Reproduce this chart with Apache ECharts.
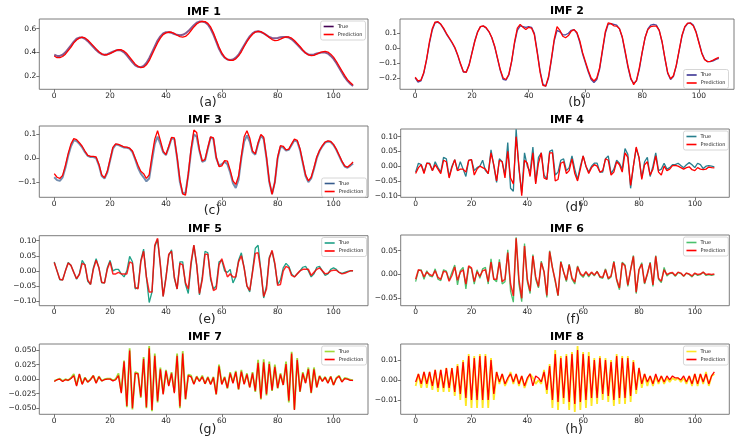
<!DOCTYPE html>
<html><head><meta charset="utf-8">
<script src="https://cdn.jsdelivr.net/npm/echarts@6/dist/echarts.min.js"></script>
<style>html,body{margin:0;padding:0;background:#fff}#c{width:741px;height:439px}</style>
</head><body><div id="c"></div>
<script>
// ---------------- DATA ----------------
const xTicks = [0, 20, 40, 60, 80, 100];
const panelTitles = ['IMF 1','IMF 2','IMF 3','IMF 4','IMF 5','IMF 6','IMF 7','IMF 8'];
const panelLabels = ['(a)','(b)','(c)','(d)','(e)','(f)','(g)','(h)'];
const seriesNames = ['True', 'Prediction'];

const yTicks1 = [0.2, 0.4, 0.6];
const yTicks2 = [-0.2, -0.1, 0.0, 0.1];
const yTicks3 = [-0.1, 0.0, 0.1];
const yTicks4 = [-0.10, -0.05, 0.00, 0.05, 0.10];
const yTicks5 = [-0.10, -0.05, 0.00, 0.05, 0.10];
const yTicks6 = [-0.05, 0.00, 0.05];
const yTicks7 = [-0.050, -0.025, 0.000, 0.025, 0.050];
const yTicks8 = [-0.01, 0.00, 0.01];

const imf1True = [0.38,0.37,0.37,0.38,0.40,0.43,0.46,0.49,0.515,0.525,
0.525,0.515,0.495,0.47,0.445,0.42,0.40,0.385,0.38,0.385,
0.395,0.405,0.415,0.42,0.415,0.40,0.375,0.345,0.315,0.29,
0.278,0.275,0.285,0.31,0.35,0.40,0.45,0.50,0.535,0.56,
0.57,0.57,0.565,0.555,0.548,0.545,0.548,0.56,0.58,0.605,
0.63,0.65,0.66,0.66,0.655,0.635,0.60,0.55,0.49,0.43,
0.385,0.355,0.34,0.335,0.34,0.355,0.38,0.42,0.46,0.50,
0.535,0.56,0.575,0.578,0.572,0.56,0.545,0.53,0.522,0.52,
0.522,0.527,0.53,0.53,0.525,0.51,0.49,0.465,0.44,0.415,
0.395,0.383,0.38,0.383,0.39,0.395,0.40,0.398,0.39,0.37,
0.345,0.31,0.27,0.23,0.19,0.16,0.135,0.115];
const imf1Pred = [0.37,0.355,0.355,0.365,0.385,0.415,0.445,0.48,0.505,0.52,
0.528,0.522,0.505,0.48,0.455,0.43,0.405,0.388,0.378,0.38,
0.39,0.402,0.415,0.423,0.422,0.41,0.39,0.36,0.33,0.30,
0.282,0.272,0.275,0.295,0.33,0.38,0.43,0.48,0.52,0.55,
0.565,0.572,0.57,0.56,0.545,0.533,0.528,0.535,0.555,0.585,
0.615,0.64,0.655,0.662,0.66,0.645,0.615,0.565,0.505,0.445,
0.395,0.36,0.34,0.332,0.333,0.345,0.37,0.405,0.45,0.49,
0.525,0.553,0.572,0.578,0.575,0.562,0.545,0.525,0.508,0.50,
0.502,0.512,0.523,0.53,0.53,0.52,0.50,0.475,0.45,0.42,
0.395,0.378,0.372,0.375,0.385,0.397,0.405,0.408,0.403,0.385,
0.36,0.325,0.285,0.245,0.205,0.17,0.145,0.125];

const imf2True = [-0.20,-0.228,-0.22,-0.17,-0.08,0.03,0.12,0.17,0.175,0.16,
0.13,0.095,0.065,0.035,0.0,-0.05,-0.11,-0.16,-0.16,-0.11,
-0.03,0.05,0.11,0.145,0.148,0.135,0.11,0.07,0.01,-0.07,
-0.15,-0.21,-0.215,-0.18,-0.09,0.03,0.12,0.15,0.145,0.14,
0.145,0.14,0.10,-0.02,-0.15,-0.24,-0.255,-0.20,-0.08,0.05,
0.12,0.11,0.09,0.09,0.10,0.12,0.125,0.10,0.04,-0.04,
-0.10,-0.16,-0.21,-0.23,-0.21,-0.14,-0.02,0.10,0.16,0.165,
0.16,0.155,0.13,0.07,-0.03,-0.13,-0.21,-0.235,-0.22,-0.14,
-0.03,0.07,0.13,0.155,0.16,0.155,0.12,0.04,-0.07,-0.17,
-0.21,-0.19,-0.12,-0.02,0.08,0.14,0.165,0.17,0.155,0.11,
0.04,-0.03,-0.075,-0.09,-0.09,-0.085,-0.075,-0.068];
const imf2Pred = [-0.195,-0.22,-0.215,-0.165,-0.075,0.04,0.13,0.175,0.178,0.162,
0.135,0.1,0.07,0.04,0.005,-0.045,-0.105,-0.158,-0.162,-0.115,
-0.035,0.045,0.108,0.145,0.15,0.138,0.112,0.072,0.015,-0.065,
-0.145,-0.2,-0.21,-0.175,-0.085,0.04,0.135,0.16,0.14,0.125,
0.14,0.135,0.09,-0.03,-0.16,-0.25,-0.255,-0.19,-0.07,0.06,
0.145,0.12,0.08,0.07,0.085,0.115,0.125,0.105,0.05,-0.03,
-0.09,-0.15,-0.2,-0.22,-0.2,-0.13,-0.01,0.11,0.17,0.165,
0.15,0.148,0.13,0.075,-0.02,-0.12,-0.2,-0.245,-0.215,-0.13,
-0.025,0.07,0.125,0.145,0.148,0.148,0.12,0.045,-0.065,-0.165,
-0.205,-0.185,-0.115,-0.015,0.085,0.145,0.168,0.168,0.15,0.105,
0.035,-0.035,-0.078,-0.09,-0.088,-0.08,-0.07,-0.062];

const imf3True = [-0.08,-0.092,-0.095,-0.08,-0.04,0.01,0.05,0.075,0.072,0.06,
0.045,0.025,0.01,0.005,0.005,0.0,-0.03,-0.075,-0.085,-0.06,
-0.01,0.04,0.057,0.055,0.05,0.045,0.044,0.04,0.025,-0.005,
-0.04,-0.065,-0.08,-0.097,-0.085,-0.01,0.06,0.09,0.06,0.025,
0.013,0.045,0.083,0.08,0.0,-0.1,-0.148,-0.145,-0.07,0.03,
0.1,0.09,0.03,-0.015,-0.01,0.04,0.088,0.08,0.0,-0.03,
-0.025,-0.015,-0.025,-0.06,-0.105,-0.125,-0.09,0.0,0.07,0.095,
0.07,0.025,0.015,0.06,0.095,0.08,0.0,-0.1,-0.15,-0.1,
0.0,0.048,0.045,0.032,0.035,0.055,0.075,0.07,0.035,-0.02,
-0.075,-0.1,-0.085,-0.045,0.0,0.03,0.05,0.065,0.07,0.068,
0.055,0.035,0.01,-0.015,-0.035,-0.04,-0.032,-0.022];
const imf3Pred = [-0.065,-0.08,-0.085,-0.072,-0.03,0.02,0.06,0.082,0.078,0.065,
0.05,0.03,0.012,0.008,0.008,0.005,-0.025,-0.07,-0.082,-0.055,
-0.005,0.045,0.06,0.058,0.053,0.047,0.046,0.042,0.03,0.0,
-0.03,-0.055,-0.065,-0.085,-0.07,0.01,0.08,0.115,0.075,0.03,
0.015,0.05,0.087,0.085,0.005,-0.09,-0.15,-0.155,-0.065,0.04,
0.118,0.108,0.035,-0.012,-0.005,0.045,0.09,0.085,0.005,-0.035,
-0.032,-0.01,-0.012,-0.05,-0.095,-0.11,-0.075,0.01,0.09,0.115,
0.085,0.03,0.018,0.065,0.1,0.088,0.005,-0.095,-0.152,-0.1,
0.005,0.053,0.05,0.035,0.038,0.06,0.08,0.075,0.04,-0.015,
-0.07,-0.095,-0.08,-0.04,0.005,0.033,0.053,0.068,0.073,0.07,
0.058,0.038,0.013,-0.012,-0.032,-0.038,-0.028,-0.016];

const imf4True = [-0.02,0.01,0.005,-0.02,0.01,0.01,-0.015,0.015,-0.005,-0.02,
0.03,0.025,-0.035,0.0,0.022,-0.015,0.015,-0.01,-0.035,0.02,
0.022,-0.015,-0.005,0.0,0.02,-0.015,-0.025,0.055,0.0,-0.055,
0.025,0.015,-0.03,0.08,-0.075,-0.085,0.125,-0.01,-0.09,0.045,
0.0,-0.02,0.065,-0.055,0.03,0.045,-0.03,-0.045,0.05,0.055,
-0.03,-0.02,0.02,0.025,-0.015,-0.005,0.035,-0.01,-0.045,0.0,
0.035,0.0,-0.02,0.0,0.01,0.01,-0.02,-0.02,0.025,0.035,
-0.025,-0.01,0.02,0.01,-0.01,0.06,0.04,-0.075,0.0,0.06,
0.03,-0.04,0.015,0.03,-0.035,0.0,0.045,-0.015,-0.01,0.01,
-0.01,-0.005,0.005,0.005,0.01,0.002,-0.005,0.005,0.012,0.005,
-0.005,0.01,0.005,-0.008,0.0,0.002,0.0,-0.002];
const imf4Pred = [-0.025,-0.005,0.005,-0.025,0.01,0.008,-0.015,0.005,-0.01,-0.025,
0.02,0.015,-0.04,-0.005,0.022,-0.015,-0.01,-0.01,-0.02,0.02,
0.022,-0.03,-0.01,0.0,-0.005,-0.01,-0.025,0.045,0.005,-0.05,
0.02,0.015,-0.04,0.05,-0.04,-0.06,0.10,0.0,-0.10,0.02,
0.01,-0.035,0.045,-0.06,0.01,0.045,-0.04,-0.045,0.045,0.045,
-0.05,-0.045,0.01,0.015,-0.025,-0.015,0.025,-0.025,-0.05,-0.01,
0.035,0.0,-0.025,-0.005,0.005,0.0,-0.02,-0.015,0.025,0.02,
-0.03,-0.02,0.015,0.005,-0.02,0.045,0.03,-0.065,0.0,0.065,
0.03,-0.045,0.005,0.015,-0.03,-0.01,0.035,-0.02,-0.03,0.0,
-0.015,-0.01,0.002,0.003,0.0,-0.005,-0.01,-0.005,-0.002,-0.012,
-0.015,-0.005,-0.01,-0.012,-0.01,-0.003,-0.005,-0.006];

const imf5True = [0.03,0.0,-0.03,-0.03,0.0,0.028,0.018,-0.005,-0.028,-0.01,
0.035,0.02,-0.035,-0.045,0.01,0.04,0.01,-0.04,-0.04,0.01,
0.035,0.0,0.005,0.005,-0.01,-0.02,0.0,0.048,0.03,-0.06,
-0.055,0.035,0.072,-0.02,-0.105,-0.07,0.08,0.105,0.02,-0.085,
-0.02,0.05,0.07,-0.025,-0.06,0.03,0.03,-0.045,-0.075,0.02,
0.085,0.02,-0.08,-0.02,0.065,0.06,-0.03,-0.06,-0.05,0.03,
0.035,0.0,-0.005,0.005,-0.04,-0.02,0.035,0.06,0.01,-0.05,
-0.07,0.0,0.075,0.085,0.0,-0.09,-0.05,0.045,0.065,0.02,
-0.045,-0.03,0.01,0.025,0.015,-0.01,-0.02,-0.01,0.0,0.012,
0.015,0.0,-0.02,-0.01,0.012,0.015,0.0,-0.015,-0.01,0.005,
0.01,0.005,-0.005,-0.008,-0.005,-0.002,0.0,0.0];
const imf5Pred = [0.028,0.0,-0.028,-0.03,0.0,0.026,0.018,-0.005,-0.026,-0.012,
0.025,0.02,-0.03,-0.045,0.005,0.035,0.01,-0.038,-0.04,0.005,
0.03,-0.01,-0.01,-0.005,-0.01,-0.01,-0.01,0.03,0.025,-0.055,
-0.06,0.03,0.065,-0.02,-0.07,-0.07,0.085,0.108,0.02,-0.085,
-0.025,0.055,0.065,-0.02,-0.06,0.025,0.02,-0.04,-0.06,0.03,
0.085,0.02,-0.075,-0.03,0.055,0.055,-0.02,-0.065,-0.06,0.02,
0.04,0.01,-0.02,-0.01,-0.02,-0.02,0.03,0.05,0.01,-0.05,
-0.065,-0.005,0.058,0.06,0.0,-0.085,-0.06,0.04,0.068,0.025,
-0.048,-0.045,0.0,0.015,0.01,-0.015,-0.02,-0.01,0.0,0.005,
0.005,0.005,-0.015,-0.005,0.005,0.01,0.0,-0.01,-0.008,0.0,
0.002,0.002,-0.005,-0.01,-0.008,-0.004,0.0,0.0];

const imf6True = [-0.015,0.008,0.01,-0.01,0.008,-0.003,-0.005,0.012,-0.01,-0.013,
0.01,0.007,-0.012,0.005,0.02,-0.022,0.008,0.015,-0.03,0.016,
0.012,-0.02,0.01,-0.008,0.012,0.015,-0.02,0.033,-0.01,-0.015,
0.032,-0.02,-0.015,0.052,-0.035,-0.058,0.078,-0.02,-0.057,0.065,
-0.015,-0.04,0.042,-0.01,-0.028,0.028,0.005,-0.048,0.05,0.015,
-0.015,-0.045,0.028,0.005,-0.015,0.022,-0.01,-0.02,0.018,0.0,
-0.006,0.005,-0.005,0.004,-0.003,0.007,-0.006,-0.008,0.012,-0.01,
-0.005,0.028,-0.012,-0.032,0.026,0.02,-0.025,0.01,0.04,-0.04,
0.01,0.025,-0.02,0.0,0.026,-0.025,0.04,-0.01,-0.017,0.015,
-0.003,0.002,0.003,-0.004,0.004,0.002,-0.004,0.003,0.0,-0.005,
0.002,-0.002,0.0,0.005,-0.002,0.0,-0.002,0.0];
const imf6Pred = [-0.01,0.01,0.008,-0.005,0.005,0.0,-0.003,0.008,-0.006,-0.01,
0.007,0.005,-0.014,-0.002,0.016,-0.012,0.005,0.01,-0.02,0.018,
0.014,-0.015,0.006,-0.004,0.008,0.01,-0.015,0.026,-0.01,-0.01,
0.026,-0.015,-0.01,0.046,-0.02,-0.045,0.076,-0.01,-0.05,0.06,
-0.01,-0.035,0.039,-0.005,-0.025,0.025,0.006,-0.044,0.048,0.014,
-0.012,-0.044,0.026,0.006,-0.012,0.02,-0.007,-0.016,0.016,0.002,
-0.003,0.006,-0.002,0.005,-0.001,0.006,-0.004,-0.006,0.01,-0.008,
-0.003,0.026,-0.01,-0.028,0.024,0.018,-0.022,0.01,0.038,-0.037,
0.01,0.022,-0.018,0.002,0.024,-0.022,0.038,-0.008,-0.014,0.01,
0.0,0.003,0.004,-0.002,0.005,0.003,-0.003,0.003,0.001,-0.003,
0.003,0.0,0.001,0.005,0.0,0.001,0.0,0.001];

const imf7True = [-0.003,-0.001,0.001,-0.003,0.0,-0.002,0.002,0.009,-0.01,0.008,
-0.008,0.003,-0.005,0.0,0.006,-0.006,0.005,-0.003,0.0,0.001,
0.001,-0.002,0.0,0.01,-0.022,0.032,-0.048,0.053,-0.052,0.012,
0.01,-0.032,0.038,-0.05,0.057,-0.055,0.044,-0.04,0.02,-0.025,
0.016,-0.01,0.012,-0.022,0.044,-0.05,0.048,-0.035,0.008,0.006,
-0.008,0.005,-0.003,0.006,-0.008,0.004,-0.008,0.004,-0.026,0.025,
-0.008,0.004,-0.016,0.012,-0.006,0.014,-0.018,0.016,-0.008,0.01,
-0.014,0.012,-0.022,0.033,-0.035,0.034,-0.028,0.03,-0.02,0.025,
-0.016,0.01,-0.01,0.03,-0.04,0.047,-0.052,0.036,-0.022,0.012,
-0.006,0.02,-0.024,0.02,-0.014,0.006,-0.003,0.004,-0.006,0.005,
-0.01,0.002,0.006,-0.004,0.002,0.001,-0.001,-0.002];
const imf7Pred = [-0.004,-0.001,0.0,-0.004,-0.001,-0.002,0.001,0.006,-0.012,0.009,
-0.009,0.002,-0.005,-0.001,0.006,-0.007,0.004,-0.003,-0.001,0.0,
0.0,-0.003,-0.001,0.006,-0.024,0.03,-0.046,0.049,-0.05,0.01,
0.009,-0.03,0.035,-0.048,0.053,-0.053,0.04,-0.038,0.017,-0.026,
0.014,-0.012,0.01,-0.024,0.04,-0.047,0.044,-0.034,0.006,0.004,
-0.009,0.004,-0.004,0.004,-0.008,0.003,-0.009,0.003,-0.026,0.022,
-0.009,0.003,-0.015,0.01,-0.007,0.012,-0.017,0.013,-0.009,0.008,
-0.014,0.01,-0.02,0.028,-0.033,0.029,-0.026,0.026,-0.019,0.021,
-0.015,0.008,-0.01,0.026,-0.037,0.044,-0.053,0.033,-0.021,0.01,
-0.007,0.017,-0.023,0.017,-0.014,0.005,-0.004,0.003,-0.007,0.004,
-0.01,0.001,0.005,-0.005,0.001,0.0,-0.002,-0.002];

const imf8True = [-0.003,0.003,-0.004,0.004,-0.004,0.004,-0.005,0.005,-0.006,0.005,
-0.006,0.006,-0.006,0.006,-0.008,0.008,-0.01,0.01,-0.013,0.013,
-0.014,0.012,-0.014,0.013,-0.014,0.013,-0.014,0.011,-0.01,0.004,
-0.002,0.003,-0.003,0.0,0.004,-0.002,0.003,-0.003,0.002,-0.004,
0.0,0.003,0.001,-0.002,0.0,-0.002,0.005,-0.007,0.008,-0.014,
0.015,-0.015,0.012,-0.012,0.013,-0.015,0.014,-0.016,0.017,-0.015,
0.014,-0.014,0.014,-0.013,0.011,-0.012,0.012,-0.01,0.011,-0.011,
0.01,-0.013,0.013,-0.012,0.012,-0.012,0.012,-0.011,0.01,-0.007,
0.006,-0.004,0.003,-0.003,0.002,-0.003,0.002,-0.002,0.002,-0.002,
0.001,-0.001,0.001,0.0,0.001,-0.001,0.001,-0.002,0.002,-0.003,
0.003,-0.003,0.003,-0.002,0.004,-0.003,0.002,0.003];
const imf8Pred = [-0.001,0.003,-0.002,0.004,-0.002,0.004,-0.003,0.005,-0.004,0.005,
-0.004,0.006,-0.004,0.006,-0.006,0.007,-0.007,0.009,-0.009,0.012,
-0.01,0.011,-0.01,0.012,-0.01,0.012,-0.01,0.01,-0.007,0.004,
-0.001,0.003,-0.002,0.001,0.003,-0.001,0.003,-0.002,0.002,-0.003,
0.001,0.003,-0.003,0.002,0.001,-0.001,0.004,-0.005,0.007,-0.01,
0.013,-0.011,0.011,-0.009,0.012,-0.011,0.013,-0.012,0.015,-0.011,
0.013,-0.01,0.012,-0.009,0.01,-0.009,0.011,-0.007,0.01,-0.008,
0.009,-0.01,0.012,-0.009,0.011,-0.009,0.011,-0.008,0.009,-0.005,
0.006,-0.002,0.003,-0.001,0.002,-0.002,0.003,-0.001,0.002,-0.001,
0.002,0.0,0.002,0.001,0.001,0.0,0.002,-0.001,0.002,-0.002,
0.003,-0.002,0.003,-0.001,0.003,-0.002,0.002,0.004];

// ---------------- LAYOUT / STYLE ----------------
const FONT = 'DejaVu Sans';
const trueSets = [imf1True, imf2True, imf3True, imf4True, imf5True, imf6True, imf7True, imf8True];
const predSets = [imf1Pred, imf2Pred, imf3Pred, imf4Pred, imf5Pred, imf6Pred, imf7Pred, imf8Pred];
const tickSets = [yTicks1, yTicks2, yTicks3, yTicks4, yTicks5, yTicks6, yTicks7, yTicks8];
trueSets.concat(predSets).forEach((a, k) => { if (a.length !== 108) throw new Error('array ' + k + ' has length ' + a.length); });

const layout = [
  {grid:[39.3,19,328.7,70.3],  y:[0.088,0.682],    dec:1, tc:'#440154', tw:2.0, to:0.65, pw:1.3, po:1,   leg:{right:375.5,top:21},   tt:[204,12],  st:[208,103]},
  {grid:[400,19,334,70.3],     y:[-0.276,0.196],   dec:1, tc:'#3b3494', tw:1.3, to:0.9,  pw:1.3, po:1,   leg:{right:12.5,top:69.5}, tt:[567,11.5], st:[577,103]},
  {grid:[39.3,126,328.7,71.3], y:[-0.164,0.135],   dec:1, tc:'#365c8d', tw:2.0, to:0.7,  pw:1.3, po:1,   leg:{right:374.5,top:178},  tt:[205,120], st:[212,211]},
  {grid:[400.7,129,328.6,68.3],y:[-0.1055,0.126],  dec:2, tc:'#277f8e', tw:1.3, to:1,    pw:1.3, po:1,   leg:{right:12.7,top:131},  tt:[567,120.5], st:[574,208]},
  {grid:[39.3,235.7,328.7,70], y:[-0.1155,0.1166], dec:2, tc:'#1fa187', tw:1.3, to:1,    pw:1.5, po:0.85,leg:{right:374.5,top:237.5},tt:[205,228.7],st:[207,320]},
  {grid:[400.7,235,328.6,70.7],y:[-0.0655,0.083],  dec:2, tc:'#4ac16d', tw:1.3, to:1,    pw:1.5, po:0.85,leg:{right:12.7,top:237},  tt:[567,228.7],st:[573,320]},
  {grid:[39.3,344,328.7,70.3], y:[-0.0603,0.0603], dec:3, tc:'#a0da39', tw:1.8, to:1,    pw:1.3, po:1,   leg:{right:374.5,top:346},  tt:[205,336.7],st:[207.5,430]},
  {grid:[400.7,344,328.6,70.3],y:[-0.0172,0.018],  dec:2, tc:'#fde725', tw:1.8, to:1,    pw:1.3, po:1,   leg:{right:12.7,top:346},  tt:[567,336.7],st:[574,430]}
];

const fmt = (v, d) => { const s = Math.abs(v) < 1e-12 ? (0).toFixed(d) : v.toFixed(d); return s.replace('-', '\u2212'); };

const grids = [], xAxes = [], yAxes = [], series = [], legends = [], graphics = [];
layout.forEach((L, i) => {
  grids.push({left:L.grid[0], top:L.grid[1], width:L.grid[2], height:L.grid[3], show:true,
    borderColor:'#6e6e6e', borderWidth:0.9, backgroundColor:'#fff', containLabel:false});
  xAxes.push({gridIndex:i, type:'value', min:-5.35, max:112.35, position:'bottom',
    splitLine:{show:false}, axisLine:{show:false, onZero:false},
    axisTick:{show:true, inside:false, customValues:xTicks, length:3, lineStyle:{color:'#555', width:0.8}},
    axisLabel:{customValues:xTicks, fontSize:7.5, color:'#222', margin:2.5, fontFamily:FONT}});
  yAxes.push({gridIndex:i, type:'value', min:L.y[0], max:L.y[1], position:'left',
    splitLine:{show:false}, axisLine:{show:false, onZero:false},
    axisTick:{show:true, inside:false, customValues:tickSets[i], length:3, lineStyle:{color:'#555', width:0.8}},
    axisLabel:{customValues:tickSets[i], fontSize:7.5, color:'#222', margin:3, fontFamily:FONT,
      formatter:(v) => fmt(v, L.dec)}});
  const tName = seriesNames[0] + '#' + i, pName = seriesNames[1] + '#' + i;
  series.push({type:'line', name:tName, xAxisIndex:i, yAxisIndex:i, symbol:'none', showSymbol:false,
    color:L.tc, lineStyle:{width:L.tw, opacity:L.to}, data:trueSets[i].map((v,k)=>[k,v]), z:2, silent:true});
  series.push({type:'line', name:pName, xAxisIndex:i, yAxisIndex:i, symbol:'none', showSymbol:false,
    color:'#ff0000', lineStyle:{width:L.pw, opacity:L.po}, data:predSets[i].map((v,k)=>[k,v]), z:3, silent:true});
  legends.push(Object.assign({data:[tName, pName], orient:'vertical', icon:'rect', itemWidth:10, itemHeight:1.6,
    itemGap:2, padding:[2.5,3,2.5,3], backgroundColor:'rgba(255,255,255,0.85)', borderColor:'#cccccc',
    borderWidth:0.8, borderRadius:2, selectedMode:false,
    formatter:(n) => n.split('#')[0],
    textStyle:{fontSize:5, fontFamily:FONT, color:'#222', lineHeight:6, padding:[0,0,0,-1]}}, L.leg));
  graphics.push({type:'text', x:L.tt[0], y:L.tt[1], style:{text:panelTitles[i], fontSize:11, fontWeight:'bold',
    fontFamily:FONT, fill:'#000', align:'center', verticalAlign:'middle', textAlign:'center', textVerticalAlign:'middle'}});
  graphics.push({type:'text', x:L.st[0], y:L.st[1], style:{text:panelLabels[i], fontSize:12.5,
    fontFamily:FONT, fill:'#222', align:'center', verticalAlign:'middle', textAlign:'center', textVerticalAlign:'middle'}});
});

const chart = echarts.init(document.getElementById('c'), null, {renderer:'canvas'});
chart.setOption({
  animation:false, backgroundColor:'#fff',
  grid:grids, xAxis:xAxes, yAxis:yAxes, series:series, legend:legends, graphic:graphics
});
</script></body></html>
